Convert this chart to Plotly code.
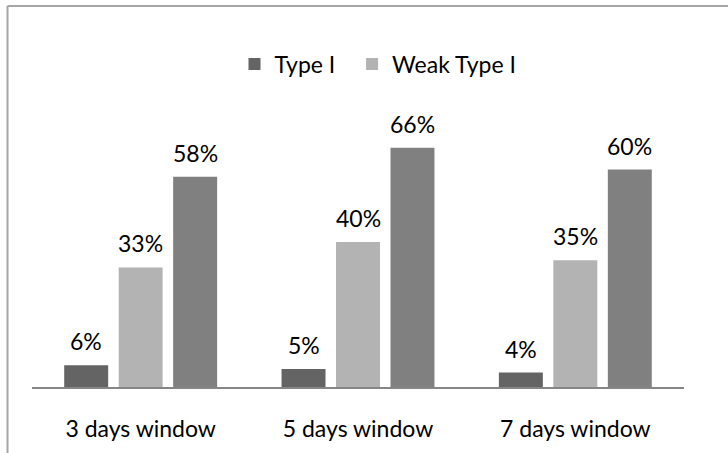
import plotly.graph_objects as go

categories = ["3 days window", "5 days window", "7 days window"]
type_i = [6, 5, 4]
weak_type_i = [33, 40, 35]
third_series = [58, 66, 60]

series_names = ["Type I\u00a0\u00a0", "Weak Type I", "Type I or Weak Type I"]
series_values = [type_i, weak_type_i, third_series]
series_colors = ["#646464", "#b3b3b3", "#808080"]
series_legend = [True, True, False]

FONT = "Lato"
W, H = 728, 453
ml, mr, mt, mb = 32, 44, 97, 66
plot_w = W - ml - mr
plot_h = H - mt - mb
ymax = 80

fig = go.Figure()
for name, vals, col, sl in zip(series_names, series_values, series_colors, series_legend):
    fig.add_trace(go.Bar(
        x=categories, y=vals, name=name, marker=dict(color=col, line=dict(width=0)),
        showlegend=sl,
    ))

slot_px = 54.5
annotations = []
for i, vals in enumerate(series_values):
    for cat, v in zip(categories, vals):
        annotations.append(dict(
            x=cat, y=v, xref="x", yref="y", text=f"{v}%", showarrow=False,
            xshift=(i - 1) * slot_px, yshift=8, yanchor="bottom",
            font=dict(family=FONT, size=23, color="#000000"),
        ))

# outer frame (top and left edges visible)
px2x = lambda p: (p - ml) / plot_w
py2y = lambda p: (H - mb - p) / plot_h
shapes = [
    dict(type="line", xref="paper", yref="paper", x0=px2x(7.5), x1=px2x(740), y0=py2y(6), y1=py2y(6),
         line=dict(color="#a6a6a6", width=2)),
    dict(type="line", xref="paper", yref="paper", x0=px2x(7.5), x1=px2x(7.5), y0=py2y(6), y1=py2y(470),
         line=dict(color="#a6a6a6", width=2)),
]

fig.update_layout(
    width=W, height=H,
    margin=dict(l=ml, r=mr, t=mt, b=mb),
    paper_bgcolor="white", plot_bgcolor="white",
    barmode="group", bargap=0.248, bargroupgap=0.193,
    font=dict(family=FONT, size=23, color="#000000"),
    showlegend=True,
    legend=dict(orientation="h", x=px2x(378), xanchor="center", y=py2y(64), yanchor="middle",
                font=dict(family=FONT, size=23, color="#000000"), itemwidth=30,
                tracegroupgap=0, bgcolor="rgba(0,0,0,0)"),
    annotations=annotations,
    shapes=shapes,
)
fig.update_xaxes(
    showline=True, linecolor="#868686", linewidth=2, ticks="", showgrid=False,
    tickfont=dict(family=FONT, size=23, color="#000000"), ticklabelstandoff=20,
)
fig.update_yaxes(range=[0, ymax], visible=False, showgrid=False, zeroline=False)

fig.write_html("out.html")
